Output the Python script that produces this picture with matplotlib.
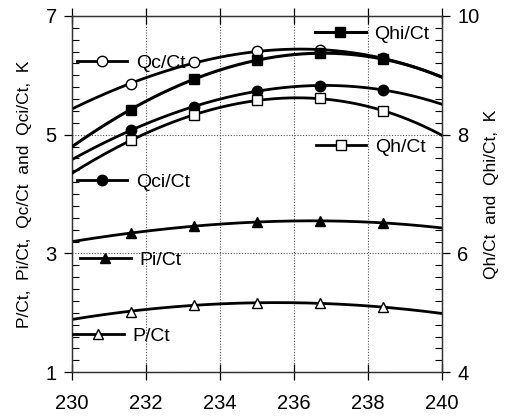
import numpy as np
import matplotlib
matplotlib.use("Agg")
import matplotlib.pyplot as plt
from matplotlib.lines import Line2D
from matplotlib.legend import Legend
from matplotlib.ticker import MultipleLocator

plt.rcParams["font.family"] = ["Liberation Sans", "DejaVu Sans"]

# temperature axis: curve ends plus the marker positions
x_line = [230.0, 231.6, 233.3, 235.0, 236.7, 238.4, 240.0]
x_mark = [231.6, 233.3, 235.0, 236.7, 238.4]

# left axis series (K), values at x_line
qc_ct = [5.44, 5.85, 6.22, 6.41, 6.42, 6.29, 5.97]
qci_ct = [4.58, 5.08, 5.47, 5.74, 5.82, 5.76, 5.51]
pi_ct = [3.20, 3.34, 3.46, 3.53, 3.55, 3.51, 3.43]
p_ct = [1.89, 2.02, 2.13, 2.17, 2.16, 2.09, 1.99]

# right axis series (K)
qhi_ct = [7.80, 8.42, 8.94, 9.26, 9.37, 9.27, 8.97]
qh_ct = [7.35, 7.91, 8.33, 8.58, 8.61, 8.40, 7.99]

left_ticks = [1, 3, 5, 7]
right_ticks = [4, 6, 8, 10]
x_ticks = [230, 232, 234, 236, 238, 240]

fig = plt.figure(figsize=(5.07, 4.20), dpi=100)
ax = fig.add_axes([0.142, 0.114, 0.730, 0.848])
ax2 = ax.twinx()

xs = np.linspace(230, 240, 200)


def draw(axis, vals, marker, face, ms, lw, label):
    # smooth trend through the read values, markers at the measured points
    coef = np.polyfit(x_line, vals, 3)
    axis.plot(xs, np.polyval(coef, xs), color="black", lw=lw, zorder=3)
    axis.plot(x_mark, vals[1:-1], ls="none", marker=marker, mfc=face,
              mec="black", mew=1.0, ms=ms, zorder=4)
    return Line2D([], [], color="black", lw=lw, marker=marker, mfc=face,
                  mec="black", mew=1.0, ms=ms, label=label)


h_qc = draw(ax, qc_ct, "o", "white", 7.5, 2.0, "Qc/Ct")
h_qci = draw(ax, qci_ct, "o", "black", 7.5, 2.0, "Qci/Ct")
h_pi = draw(ax, pi_ct, "^", "black", 7, 2.0, "Pi/Ct")
h_p = draw(ax, p_ct, "^", "white", 7, 2.0, "P/Ct")
h_qhi = draw(ax2, qhi_ct, "s", "black", 6.5, 2.2, "Qhi/Ct")
h_qh = draw(ax2, qh_ct, "s", "white", 6.5, 2.0, "Qh/Ct")

ax.set_xlim(230, 240)
ax.set_ylim(1, 7)
ax2.set_ylim(4, 10)

ax.set_xticks(x_ticks)
ax.set_yticks(left_ticks)
ax.yaxis.set_minor_locator(MultipleLocator(0.2))
ax2.set_yticks(right_ticks)
ax2.yaxis.set_minor_locator(MultipleLocator(0.2))

ax.grid(True, which="major", ls=(0, (1, 1.5)), color="#555555", lw=0.8)

ax.tick_params(axis="x", which="major", direction="inout", length=12,
               top=True, labelsize=14.5, pad=10, width=0.9)
ax.tick_params(axis="y", which="major", direction="out", length=6,
               labelsize=14.5, pad=5, width=0.9)
ax.tick_params(axis="y", which="minor", direction="in", length=5, width=0.8)
ax2.tick_params(axis="y", which="major", direction="out", length=6,
                labelsize=14.5, pad=5, width=0.9)
ax2.tick_params(axis="y", which="minor", direction="in", length=5, width=0.8)

for a in (ax, ax2):
    for s in a.spines.values():
        s.set_color("#333333")
        s.set_linewidth(0.9)

ax.set_ylabel("P/Ct,  Pi/Ct,  Qc/Ct  and  Qci/Ct,  K", fontsize=12.5, labelpad=10)
ax2.set_ylabel("Qh/Ct  and  Qhi/Ct,  K", fontsize=12.5, labelpad=3)

# scattered one-entry legends next to each curve
legend_spots = [
    (h_qc, (0.013, 0.868)),
    (h_qci, (0.013, 0.534)),
    (h_pi, (0.022, 0.315)),
    (h_p, (0.003, 0.102)),
    (h_qhi, (0.657, 0.949)),
    (h_qh, (0.659, 0.632)),
]
for handle, anchor in legend_spots:
    leg = Legend(ax2, [handle], [handle.get_label()], loc="center left",
                 bbox_to_anchor=anchor, frameon=False, fontsize=14,
                 handlelength=2.6, handletextpad=0.45, borderpad=0,
                 borderaxespad=0)
    leg.set_zorder(6)
    ax2.add_artist(leg)

fig.savefig("out.png", dpi=100)
